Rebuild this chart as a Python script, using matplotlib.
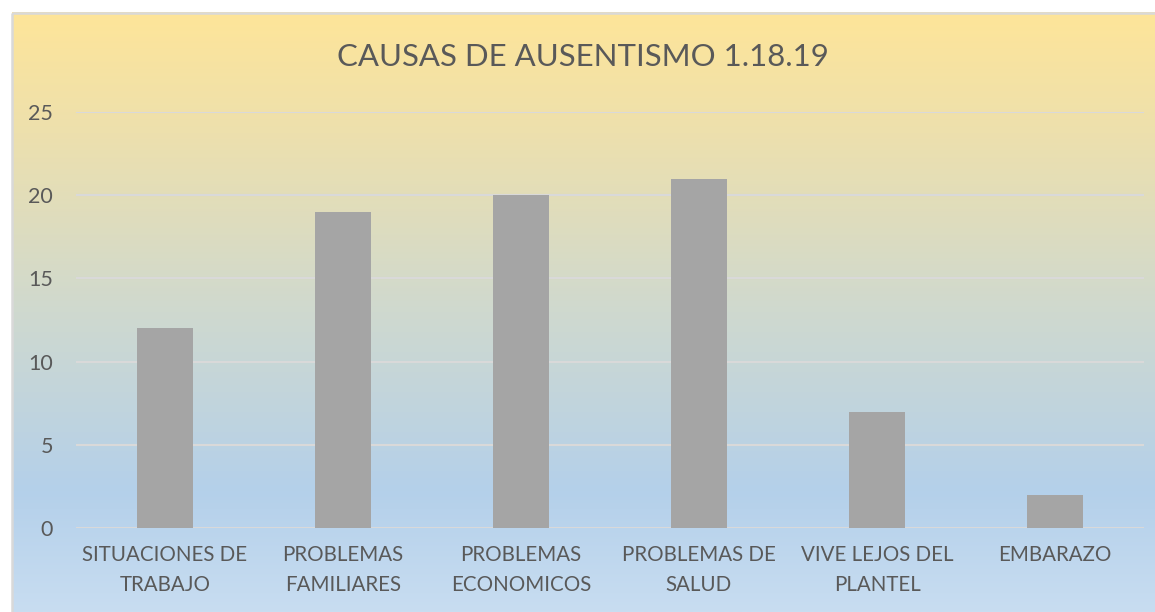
import numpy as np
import matplotlib
matplotlib.use('Agg')
import matplotlib.pyplot as plt
from matplotlib.colors import LinearSegmentedColormap
from matplotlib.patches import Rectangle

categories = ['SITUACIONES DE\nTRABAJO', 'PROBLEMAS\nFAMILIARES', 'PROBLEMAS\nECONOMICOS',
              'PROBLEMAS DE\nSALUD', 'VIVE LEJOS DEL\nPLANTEL', 'EMBARAZO']
values = [12, 19, 20, 21, 7, 2]
yticks = [0, 5, 10, 15, 20, 25]
title = 'CAUSAS DE AUSENTISMO 1.18.19'

plt.rcParams['font.family'] = ['Lato', 'DejaVu Sans']
txt_color = '#595959'
W, H = 1155, 612
fig = plt.figure(figsize=(W / 100, H / 100), dpi=100)
fig.patch.set_facecolor('white')

# background gradient (chart area)
bg = fig.add_axes([0, 0, 1, 1])
bg.set_xlim(0, W)
bg.set_ylim(H, 0)
bg.axis('off')
cmap = LinearSegmentedColormap.from_list('bg', [
    (0.0, '#fee599'), (0.2, '#ede0ad'), (0.5, '#cfd9cf'),
    (0.8, '#b4d0ea'), (1.0, '#c8ddf1')])
grad = np.linspace(0, 1, 256).reshape(-1, 1)
bg.imshow(grad, cmap=cmap, aspect='auto', extent=[12, W + 5, H, 12], zorder=0)
bg.add_patch(Rectangle((11.5, 12.5), W, H, fill=False, edgecolor='#d9d9d9', lw=1.8, zorder=1))

# plot area
x0, x1 = 76, 1144
y_top, y_bot = 112, 528
ax = fig.add_axes([x0 / W, 1 - y_bot / H, (x1 - x0) / W, (y_bot - y_top) / H])
ax.patch.set_alpha(0)
x = np.arange(len(categories))
ax.bar(x, values, width=0.315, color='#a5a5a5', zorder=3)
ax.set_xlim(-0.5, len(categories) - 0.5)
ax.set_ylim(0, 25)
ax.set_yticks(yticks)
ax.set_xticks(x)
ax.set_xticklabels(categories, fontsize=14.8, color=txt_color, linespacing=1.62)
ax.tick_params(axis='y', labelsize=15.5, colors=txt_color, length=0, pad=16.5)
ax.tick_params(axis='x', length=0, pad=12)
ax.grid(axis='y', color='#d9d9d9', lw=1.5, zorder=1)
for s in ax.spines.values():
    s.set_visible(False)
ax.axhline(0, color='#d9d9d9', lw=2, zorder=2)

fig.text(583 / W, 1 - 57 / H, title, ha='center', va='center',
         fontsize=22.4, color=txt_color)

fig.savefig('out.png', dpi=100)
